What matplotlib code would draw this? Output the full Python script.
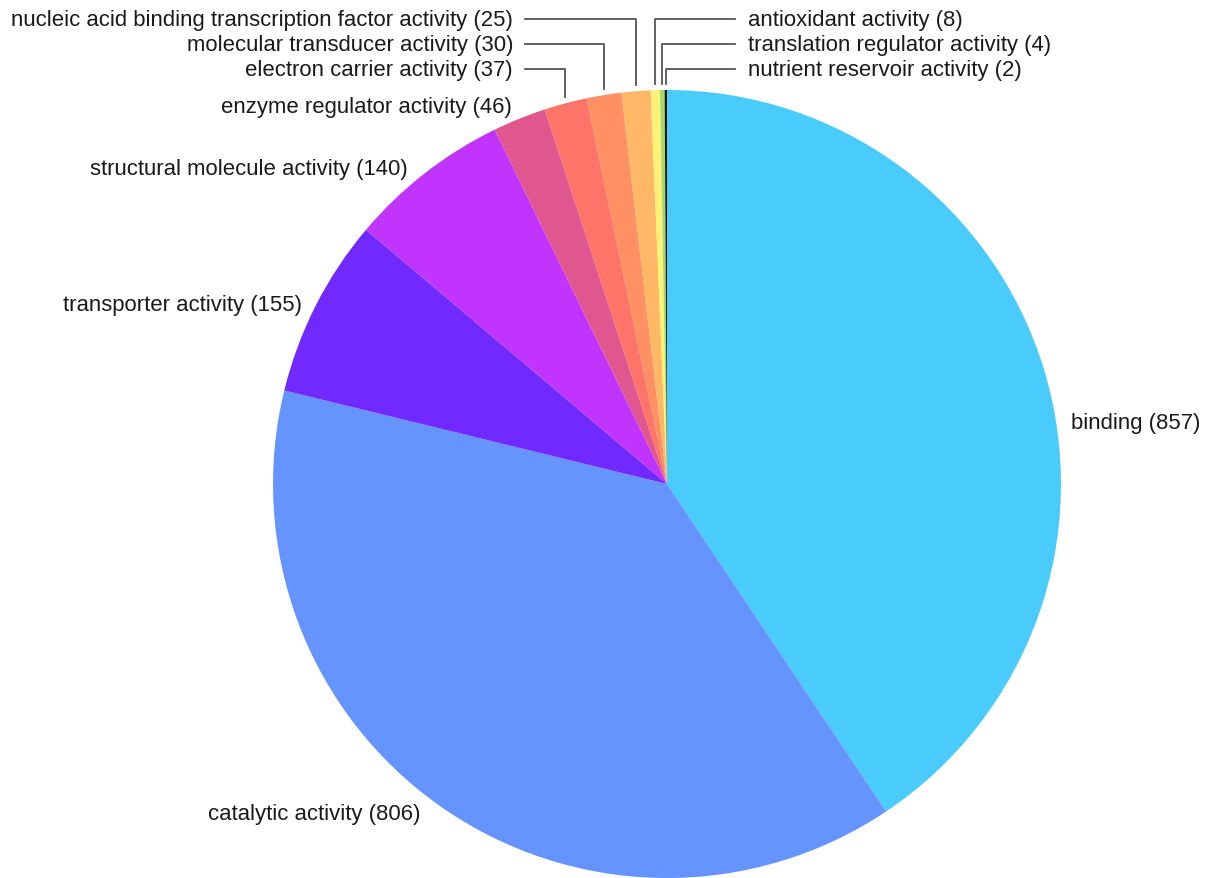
import numpy as np
import matplotlib.pyplot as plt

plt.rcParams['font.family'] = ['Liberation Sans', 'DejaVu Sans']

categories = ["binding", "catalytic activity", "transporter activity",
              "structural molecule activity", "enzyme regulator activity",
              "electron carrier activity", "molecular transducer activity",
              "nucleic acid binding transcription factor activity",
              "antioxidant activity", "translation regulator activity",
              "nutrient reservoir activity"]
counts = [857, 806, 155, 140, 46, 37, 30, 25, 8, 4, 2]
colors = ['#49CBFC', '#6594FE', '#7029FE', '#C134FD', '#E0568F', '#FF7468',
          '#FF9064', '#FFB866', '#FFF175', '#A6D96A', '#111111']

W, H = 1205, 879
fig = plt.figure(figsize=(W / 100, H / 100), dpi=100)
ax = fig.add_axes([0, 0, 1, 1])

cx, cy, r = 667, H - 485, 394
wedges, _ = ax.pie(counts, colors=colors, startangle=90, counterclock=False,
                   center=(cx, cy), radius=r, frame=True,
                   wedgeprops=dict(linewidth=0))
ax.set_xlim(0, W)
ax.set_ylim(0, H)
ax.axis('off')

labels = [f"{c} ({n})" for c, n in zip(categories, counts)]
fs = 15.9
tc = '#1a1a1a'

# labels for the big slices, placed by hand next to the pie
big = {0: (1071, 423, 'left'), 1: (420, 815, 'right'), 2: (302, 305, 'right'),
       3: (408, 170, 'right'), 4: (512, 107, 'right')}
for i, (x, y, ha) in big.items():
    ax.text(x, H - y, labels[i], ha=ha, va='center', fontsize=fs, color=tc)

# small slices: leader lines going up then sideways
small = {5: (70, 'left'), 6: (45, 'left'), 7: (20, 'left'),
         8: (20, 'right'), 9: (45, 'right'), 10: (70, 'right')}
for i, (y, side) in small.items():
    w = wedges[i]
    mid = np.deg2rad((w.theta1 + w.theta2) / 2)
    xe = cx + r * np.cos(mid)
    ye = cy + r * np.sin(mid) + 6
    yl = H - y
    if side == 'left':
        ax.plot([xe, xe, 525], [ye, yl, yl], color='#555555', lw=1.3)
        ax.text(513, yl, labels[i], ha='right', va='center', fontsize=fs, color=tc)
    else:
        ax.plot([xe, xe, 735], [ye, yl, yl], color='#555555', lw=1.3)
        ax.text(748, yl, labels[i], ha='left', va='center', fontsize=fs, color=tc)

fig.savefig('out.png', dpi=100)
